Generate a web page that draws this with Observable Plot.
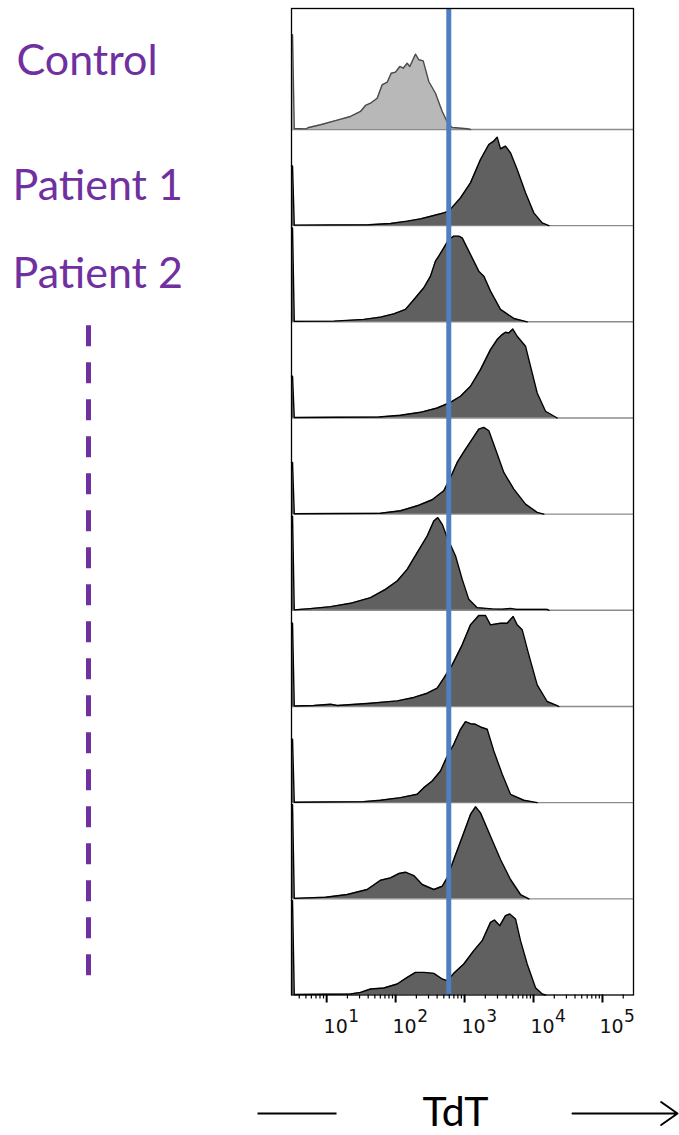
<!DOCTYPE html>
<html><head><meta charset="utf-8">
<script src="https://cdn.jsdelivr.net/npm/d3@7"></script>
<script src="https://cdn.jsdelivr.net/npm/@observablehq/plot@0.6"></script>
<style>body{margin:0;background:#fff}</style>
</head><body><div id="chart"></div>
<script>
// Histogram outlines: [log10(TdT), relative count] per sample (top to bottom)
const control = [[0.49,0.985],[0.505,0.985],[0.53,0.01],[0.70,0.006],[0.741,0.021],[0.911,0.049],[1.153,0.097],[1.346,0.135],[1.491,0.187],[1.563,0.25],[1.636,0.273],[1.733,0.325],[1.805,0.465],[1.878,0.492],[1.936,0.585],[1.998,0.596],[2.061,0.655],[2.110,0.637],[2.168,0.689],[2.206,0.655],[2.288,0.783],[2.336,0.725],[2.400,0.714],[2.481,0.499],[2.578,0.377],[2.676,0.187],[2.757,0.066],[2.821,0.021],[3.038,0.007],[3.086,0]];
const patient1 = [[0.49,0.62],[0.505,0.62],[0.53,0.005],[1.611,0.01],[1.926,0.023],[2.168,0.047],[2.361,0.071],[2.554,0.106],[2.699,0.133],[2.771,0.151],[2.941,0.289],[3.086,0.445],[3.231,0.688],[3.352,0.844],[3.424,0.879],[3.473,0.920],[3.521,0.799],[3.594,0.827],[3.666,0.757],[3.763,0.584],[3.884,0.341],[4.004,0.133],[4.126,0.029],[4.222,0]];
const patient2 = [[0.49,0.977],[0.505,0.977],[0.53,0.005],[1.103,0.007],[1.539,0.025],[1.781,0.049],[1.974,0.083],[2.143,0.129],[2.288,0.250],[2.409,0.354],[2.506,0.475],[2.578,0.631],[2.626,0.683],[2.699,0.769],[2.771,0.857],[2.844,0.891],[2.916,0.891],[2.966,0.873],[3.038,0.769],[3.134,0.631],[3.206,0.527],[3.279,0.475],[3.376,0.319],[3.521,0.129],[3.714,0.035],[3.908,0]];
const patient3 = [[0.49,0.434],[0.505,0.434],[0.53,0.005],[1.756,0.01],[2.071,0.028],[2.361,0.059],[2.603,0.104],[2.796,0.163],[2.941,0.226],[3.086,0.330],[3.231,0.503],[3.376,0.711],[3.473,0.815],[3.546,0.867],[3.594,0.891],[3.642,0.884],[3.700,0.925],[3.763,0.850],[3.884,0.746],[3.956,0.538],[4.053,0.260],[4.174,0.070],[4.343,0]];
const patient4 = [[0.49,0.538],[0.505,0.538],[0.53,0.005],[1.781,0.01],[2.071,0.035],[2.313,0.087],[2.531,0.150],[2.699,0.243],[2.796,0.382],[2.893,0.538],[3.014,0.676],[3.111,0.780],[3.206,0.884],[3.279,0.902],[3.352,0.867],[3.449,0.676],[3.569,0.434],[3.714,0.260],[3.884,0.104],[4.053,0.018],[4.149,0]];
const patient5 = [[0.49,0.98],[0.505,0.98],[0.53,0.005],[0.766,0.018],[1.056,0.038],[1.346,0.073],[1.636,0.132],[1.853,0.218],[2.023,0.305],[2.168,0.426],[2.313,0.600],[2.458,0.773],[2.554,0.929],[2.612,0.964],[2.676,0.894],[2.748,0.756],[2.869,0.565],[2.966,0.322],[3.061,0.114],[3.183,0.028],[3.4,0.015],[3.55,0.012],[3.666,0.02],[3.75,0.01],[4.198,0.01],[4.222,0]];
const patient6 = [[0.49,0.866],[0.505,0.866],[0.53,0.005],[0.813,0.01],[1.056,0.024],[1.153,0.01],[1.636,0.034],[2.023,0.058],[2.264,0.094],[2.458,0.138],[2.603,0.190],[2.699,0.294],[2.821,0.433],[2.966,0.641],[3.086,0.849],[3.206,0.946],[3.304,0.946],[3.376,0.849],[3.521,0.866],[3.618,0.866],[3.705,0.936],[3.763,0.849],[3.836,0.797],[3.932,0.537],[4.053,0.225],[4.198,0.052],[4.343,0.01],[4.367,0]];
const patient7 = [[0.49,0.66],[0.505,0.66],[0.53,0.005],[1.539,0.011],[1.781,0.025],[2.071,0.052],[2.313,0.087],[2.409,0.156],[2.531,0.225],[2.651,0.329],[2.748,0.485],[2.844,0.607],[2.941,0.763],[3.014,0.842],[3.086,0.821],[3.159,0.815],[3.231,0.787],[3.328,0.763],[3.424,0.538],[3.546,0.295],[3.666,0.087],[3.859,0.025],[4.053,0]];
const patient8 = [[0.49,0.98],[0.505,0.98],[0.53,0.005],[0.983,0.017],[1.298,0.045],[1.588,0.097],[1.781,0.193],[1.926,0.218],[2.046,0.263],[2.143,0.277],[2.264,0.242],[2.386,0.149],[2.554,0.097],[2.676,0.131],[2.748,0.218],[2.844,0.409],[2.989,0.686],[3.086,0.877],[3.159,0.957],[3.231,0.894],[3.376,0.651],[3.521,0.409],[3.666,0.201],[3.811,0.045],[3.932,0]];
const patient9 = [[0.49,0.98],[0.505,0.98],[0.53,0.005],[1.346,0.01],[1.491,0.027],[1.636,0.062],[1.829,0.073],[2.023,0.114],[2.168,0.183],[2.288,0.235],[2.409,0.235],[2.554,0.225],[2.676,0.166],[2.748,0.149],[2.844,0.225],[2.989,0.322],[3.134,0.461],[3.256,0.565],[3.376,0.755],[3.434,0.780],[3.511,0.721],[3.594,0.825],[3.656,0.842],[3.739,0.790],[3.811,0.565],[3.908,0.322],[4.029,0.076],[4.126,0.01],[4.174,0]];

const sampleLabels = ["Control", "Patient 1", "Patient 2"];
const majorTicks = [10, 100, 1000, 10000, 100000];
const tickBase = "10";
const gateValue = 590;          // TdT positivity threshold (blue line)
const axisTitle = "TdT";

const panels = [control, patient1, patient2, patient3, patient4, patient5, patient6, patient7, patient8, patient9];
const nPanels = panels.length;
const rows = panels.flatMap((pts, k) => pts.map(([lx, h]) => ({k, base: nPanels - 1 - k, x: 10 ** lx, h})));
const xDomain = [10 ** 0.49, 10 ** 5.45];
const minorTicks = d3.range(0, 6).flatMap(e => d3.range(2, 10).map(m => m * 10 ** e))
  .filter(v => v >= xDomain[0] && v <= xDomain[1]);
const separators = d3.range(1, nPanels);
const purple = "#7030a0";
const labelFont = "Lato, 'Open Sans', sans-serif";
const yTop = 10.258;

const ctrlRows = rows.filter(d => d.k === 0), patientRows = rows.filter(d => d.k > 0);

const chart = Plot.plot({
  width: 679, height: 1135,
  marginTop: 8, marginBottom: 140.5, marginLeft: 291, marginRight: 46,
  x: {type: "log", domain: xDomain, label: null},
  y: {domain: [0, yTop], axis: null, label: null},
  style: {background: "white", fontFamily: "'DejaVu Sans', sans-serif", overflow: "visible"},
  marks: [
    Plot.ruleY(separators, {stroke: "#8c8c8c", strokeWidth: 1.4}),
    Plot.areaY(ctrlRows, {x: "x", y1: "base", y2: d => d.base + d.h, z: "k", fill: "#b8b8b8", curve: "linear"}),
    Plot.line(ctrlRows, {x: "x", y: d => d.base + d.h, z: "k", stroke: "#4a4a4a", strokeWidth: 1.4}),
    Plot.areaY(patientRows, {x: "x", y1: "base", y2: d => d.base + d.h, z: "k", fill: "#606060", curve: "linear"}),
    Plot.line(patientRows, {x: "x", y: d => d.base + d.h, z: "k", stroke: "#000", strokeWidth: 1.4}),
    Plot.ruleX([gateValue], {stroke: "#4f7fbe", strokeWidth: 5}),
    Plot.frame({stroke: "#000", strokeWidth: 1.3}),
    Plot.axisX(minorTicks, {tickSize: 4, strokeWidth: 1.2, tickFormat: () => ""}),
    Plot.axisX(majorTicks, {tickSize: 8, strokeWidth: 2, tickFormat: () => ""}),
    Plot.text(majorTicks, {x: d => d, text: () => tickBase, frameAnchor: "bottom", dy: 38, dx: 9, lineAnchor: "bottom", fontSize: 19, fill: "#111"}),
    Plot.text(majorTicks, {x: d => d, text: d => String(Math.round(Math.log10(d))), frameAnchor: "bottom", dy: 27, dx: 27, lineAnchor: "bottom", fontSize: 17, fill: "#111"}),
    // sample labels on the left
    Plot.text([sampleLabels[0]], {x: () => xDomain[0], y: () => 9.57, dx: -275, textAnchor: "start", lineAnchor: "bottom", fontSize: 43, fill: purple, fontFamily: labelFont}),
    Plot.text(sampleLabels.slice(1), {x: () => xDomain[0], y: (d, i) => [8.262, 7.347][i], dx: -279, textAnchor: "start", lineAnchor: "bottom", fontSize: 43, fill: purple, fontFamily: labelFont}),
    Plot.ruleX([xDomain[0]], {y1: 6.96, y2: 0.12, dx: -203, stroke: purple, strokeWidth: 5, strokeDasharray: "21,16"}),
    // axis title with arrow
    Plot.text([axisTitle], {x: () => 10 ** 2.868, frameAnchor: "bottom", dy: 131, lineAnchor: "bottom", fontSize: 41, fill: "#000", fontFamily: labelFont}),
    Plot.link([0], {x1: () => 10 ** -0.003, x2: () => 10 ** 1.143, y1: () => -1.232, y2: () => -1.232, stroke: "#000", strokeWidth: 2}),
    Plot.arrow([0], {x1: () => 10 ** 4.565, x2: () => 10 ** 6.088, y1: () => -1.232, y2: () => -1.232, bend: 0, headLength: 15, headAngle: 70, stroke: "#000", strokeWidth: 2})
  ]
});
document.getElementById("chart").appendChild(chart);
</script>
</body></html>
